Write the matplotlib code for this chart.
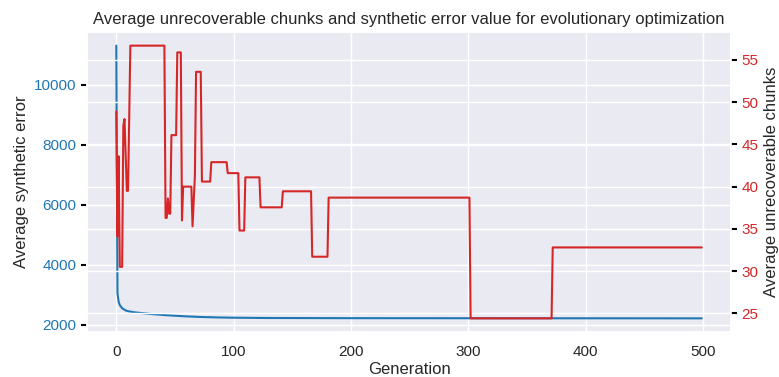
import matplotlib
matplotlib.use("Agg")
import matplotlib.pyplot as plt
import seaborn as sns

# Average synthetic error (left axis), read at selected generations
blue_gen = [0, 1, 2, 3, 5, 7, 9, 15, 29, 43, 57, 71, 86, 100, 128, 200, 300, 400, 499]
blue_err = [11300, 3050, 2760, 2650, 2545, 2495, 2455, 2411, 2355, 2312, 2279, 2255,
            2239, 2230, 2220, 2214, 2212, 2210, 2208]

# Average unrecoverable chunks (right axis), change points per generation
red_gen = [0, 1, 2, 3, 5, 6, 7, 9, 10, 12, 41, 42, 43, 44, 45, 46, 47, 51, 52, 55, 56,
           57, 64, 65, 67, 68, 72, 73, 80, 81, 94, 95, 104, 105, 109, 110, 122, 123,
           141, 142, 166, 167, 180, 181, 301, 302, 371, 372, 499]
red_chunks = [48.9, 34.1, 43.6, 30.5, 30.5, 47.2, 48.0, 39.5, 39.5, 56.7, 56.7, 36.3,
              36.3, 38.6, 36.8, 36.8, 46.1, 46.1, 55.9, 55.9, 36.0, 40.0, 40.0, 35.3,
              41.3, 53.6, 53.6, 40.6, 40.6, 42.9, 42.9, 41.6, 41.6, 34.8, 34.8, 41.1,
              41.1, 37.55, 37.55, 39.45, 39.45, 31.7, 31.7, 38.7, 38.7, 24.4, 24.4,
              32.8, 32.8]

x_ticks = [0, 100, 200, 300, 400, 500]

sns.set_theme(style="darkgrid")
plt.rcParams['font.family'] = ['Liberation Sans', 'DejaVu Sans']

blue = '#1f77b4'
red = '#d62728'

fig = plt.figure(figsize=(7.79, 3.77), dpi=100)
ax = fig.add_axes([0.1117, 0.1194, 0.8267, 0.7957])
ax.plot(blue_gen, blue_err, color=blue, lw=1.5)
ax.set_xlabel("Generation", fontsize=12, labelpad=2)
ax.set_ylabel("Average synthetic error", fontsize=12)
ax.set_xticks(x_ticks)
ax.tick_params(axis='y', labelcolor=blue, left=True, length=4, width=1.5,
               color='black', labelsize=11)
ax.tick_params(axis='x', labelsize=11)

ax2 = ax.twinx()
ax2.plot(red_gen, red_chunks, color=red, lw=1.5)
ax2.set_ylabel("Average unrecoverable chunks", fontsize=12)
ax2.tick_params(axis='y', labelcolor=red, right=True, length=4, width=1.5,
                color='black', labelsize=11)

ax.set_title("Average unrecoverable chunks and synthetic error value for evolutionary optimization",
             fontsize=12)

fig.savefig("out.png", dpi=100)
